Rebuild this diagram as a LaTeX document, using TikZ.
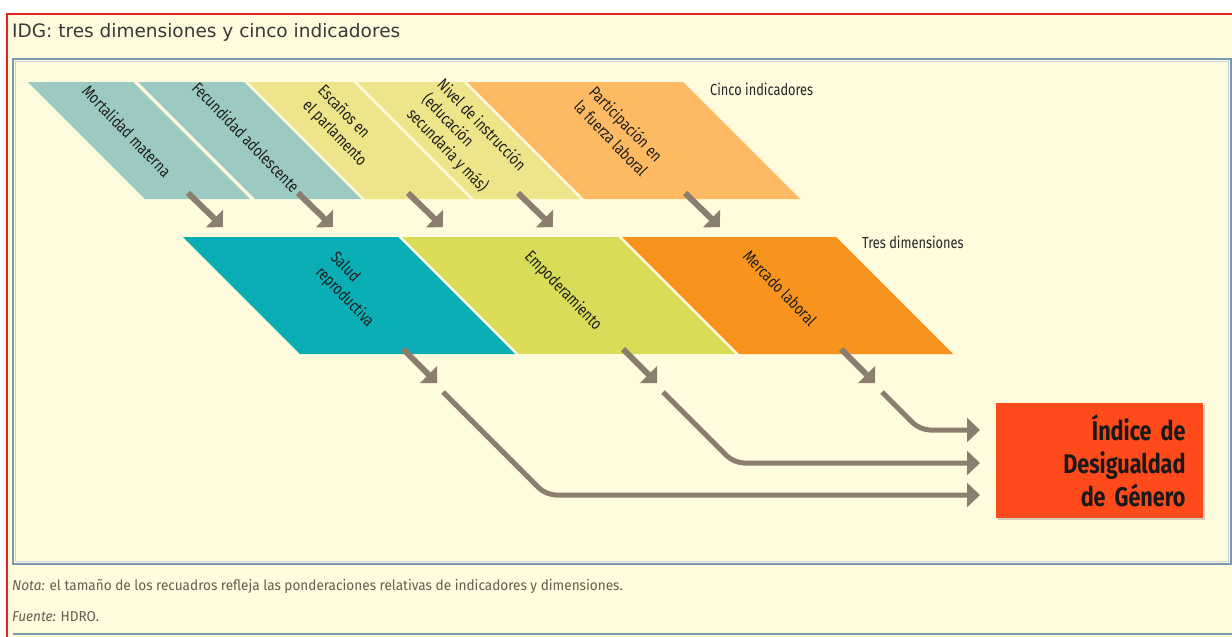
\documentclass[tikz,border=0pt]{standalone}
\usepackage{fontspec}
\setmainfont{Fira Sans}
\newfontfamily\condfont[FakeStretch=0.8]{Fira Sans}
\newfontfamily\notafont[FakeStretch=0.95]{Fira Sans}
\newfontfamily\titlefont{DejaVu Sans}
\usepackage{tikz}
\usetikzlibrary{arrows.meta, shadows, positioning}
\definecolor{idgCream}{RGB}{255, 251, 221}
\definecolor{idgRed}{RGB}{228, 32, 32}
\definecolor{idgFrame}{RGB}{122, 152, 174}
\definecolor{saludGris}{RGB}{156, 201, 193}
\definecolor{poderAmarillo}{RGB}{238, 229, 138}
\definecolor{laboralClaro}{RGB}{253, 186, 99}
\definecolor{saludTeal}{RGB}{12, 174, 181}
\definecolor{poderVerde}{RGB}{216, 220, 88}
\definecolor{laboralNaranja}{RGB}{248, 148, 29}
\definecolor{indiceRojo}{RGB}{255, 74, 28}
\definecolor{flechaGris}{RGB}{140, 126, 110}
\definecolor{notaGris}{RGB}{105, 92, 80}

\begin{document}
\begin{tikzpicture}[x=1pt, y=-1pt,
    etiqueta/.style={font=\condfont\fontsize{16.5}{21}\selectfont, rotate=-46, align=left, inner sep=0pt, text=black!88},
    rotulo/.style={font=\condfont\fontsize{16}{18}\selectfont, anchor=west, inner sep=0pt, text=black!85},
    nota/.style={font=\notafont\fontsize{14.3}{16}\selectfont, anchor=west, inner sep=0pt, text=notaGris},
    flecha/.style={-{Triangle[length=12pt, width=24pt]}, line width=6pt, color=flechaGris},
    enlace/.style={-{Triangle[length=13pt, width=24pt]}, line width=5pt, color=flechaGris, rounded corners=10pt}]
    \useasboundingbox (0,0) rectangle (1232,637);
    \fill[white] (0,0) rectangle (1232,637);
    \fill[idgCream] (7,14) rectangle (1232,637);

    % Frames
    \draw[idgRed, line width=1.5pt] (7,637) -- (7,14) -- (1232,14);
    \draw[idgFrame, line width=1.6pt] (13,59) rectangle (1231,564);
    \draw[idgFrame!45, line width=0.8pt] (15.5,61.5) rectangle (1228.5,561.5);
    \draw[idgFrame, line width=1.6pt] (13,634) -- (1232,634);

    % Title
    \node[anchor=west, inner sep=0pt, font=\titlefont\fontsize{18.5}{20}\selectfont, text=black!78] (titulo) at (12,32) {IDG: tres dimensiones y cinco indicadores};

    % Five indicators
    \foreach \xa/\xb/\col in {28/133/saludGris, 138/244/saludGris, 248/353/poderAmarillo, 357/463/poderAmarillo, 467/683/laboralClaro}
        \fill[\col] (\xa,82) -- (\xb,82) -- ++(117,117) -- (\xa+117,199) -- cycle;
    \node[etiqueta] (mortalidad) at (127,131) {Mortalidad materna};
    \node[etiqueta] (fecundidad) at (246,137) {Fecundidad adolescente};
    \node[etiqueta] (escanos) at (342,126) {Escaños en\\el parlamento};
    \node[etiqueta] (instruccion) at (466,140) {Nivel de instrucción\\(educación\\secundaria y más)};
    \node[etiqueta] (participacion) at (619,131) {Participación en\\la fuerza laboral};
    \node[rotulo] (cinco) at (710,89) {Cinco indicadores};

    % Three dimensions
    \foreach \xa/\xb/\col in {183/398/saludTeal, 402/618/poderVerde, 622/836/laboralNaranja}
        \fill[\col] (\xa,237) -- (\xb,237) -- ++(117,117) -- (\xa+117,354) -- cycle;
    \node[etiqueta] (salud) at (352,290) {Salud\\reproductiva};
    \node[etiqueta] (poder) at (563,291) {Empoderamiento};
    \node[etiqueta] (mercado) at (780,288) {Mercado laboral};
    \node[rotulo] (tres) at (862,242) {Tres dimensiones};

    % Index
    \node[fill=indiceRojo, minimum width=207pt, minimum height=115pt, text width=172pt, inner xsep=0pt, align=right,
          font=\condfont\bfseries\fontsize{27}{33}\selectfont, text=black!90,
          drop shadow={shadow xshift=2pt, shadow yshift=-2pt, opacity=0.3, fill=black!60}] (idg) at (1099.5,460.5)
          {Índice de\\Desigualdad\\de Género};

    % Arrows indicators -> dimensions
    \foreach \x [count=\i] in {188, 298, 408, 518, 685} {
        \coordinate (ind\i) at (\x,193);
        \draw[flecha] (ind\i) -- ++(35,34);
    }
    \foreach \x [count=\i] in {403, 623, 841} {
        \coordinate (dim\i) at (\x,349);
        \draw[flecha] (dim\i) -- ++(34,34);
    }

    % Arrows dimensions -> index
    \coordinate (sal-out) at (443,392);
    \coordinate (pod-out) at (663,392);
    \coordinate (mer-out) at (882,392);
    \coordinate (idg-in1) at (980,495);
    \coordinate (idg-in2) at (980,463);
    \coordinate (idg-in3) at (980,430);
    \draw[enlace] (sal-out) -- ++(103,103) -- (idg-in1);
    \draw[enlace] (pod-out) -- ++(71,71) -- (idg-in2);
    \draw[enlace] (mer-out) -- ++(38,38) -- (idg-in3);

    % Notes
    \node[nota] (nota) at (12,586) {\textit{Nota:} el tamaño de los recuadros refleja las ponderaciones relativas de indicadores y dimensiones.};
    \node[nota] (fuente) at (12,617) {\textit{Fuente:} HDRO.};
\end{tikzpicture}
\end{document}
